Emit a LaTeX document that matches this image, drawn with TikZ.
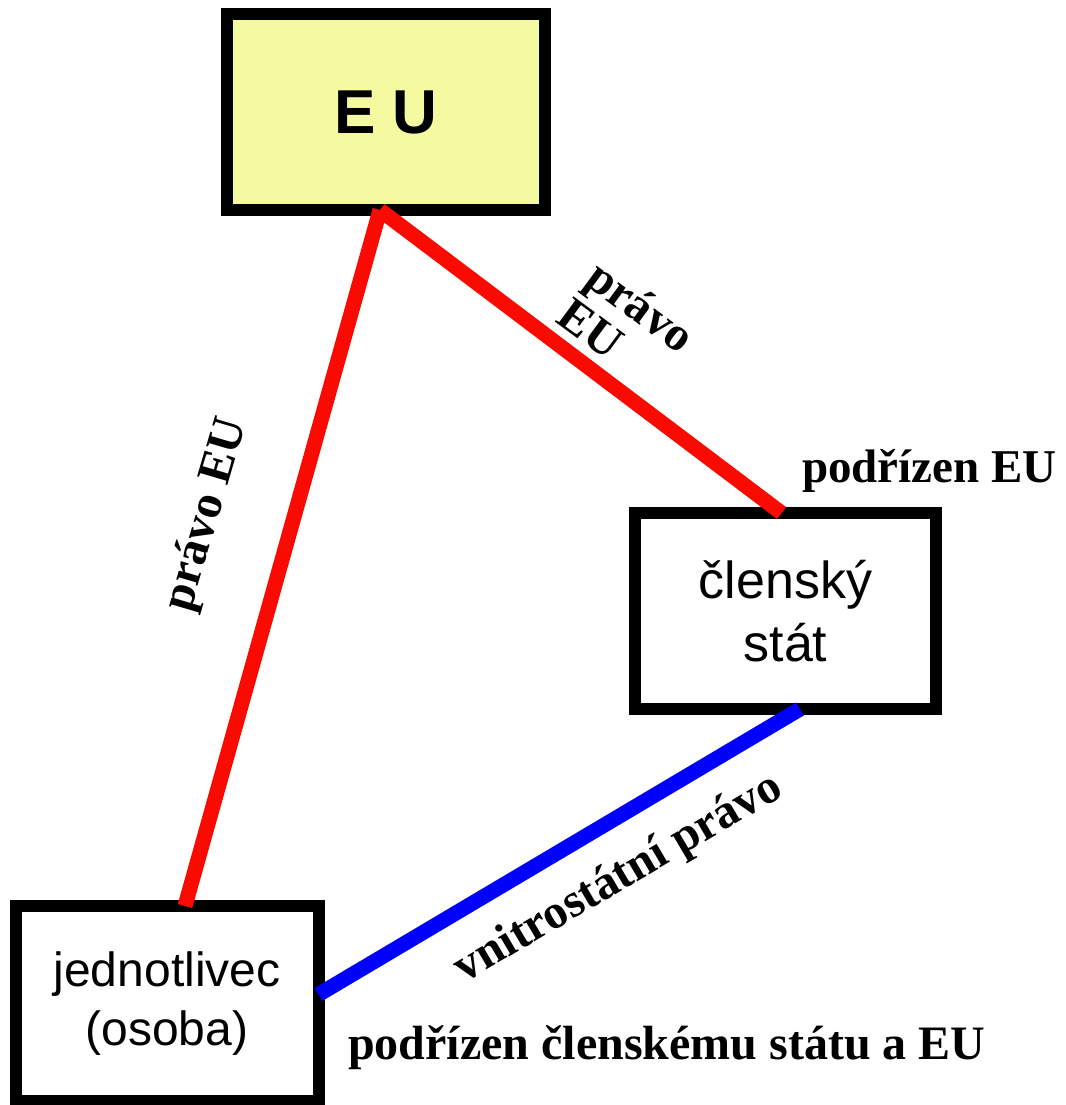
\documentclass[tikz,border=0pt]{standalone}
\usepackage{fontspec}
\setmainfont{Liberation Serif}
\newfontfamily\boxfont{Liberation Sans}
\usetikzlibrary{calc}
\definecolor{euyellow}{RGB}{245,250,160}
\definecolor{lawred}{RGB}{250,10,0}
\definecolor{lawblue}{RGB}{0,0,255}
\begin{document}
\begin{tikzpicture}[x=1pt,y=-1pt,
  box/.style={draw=black,line width=12pt,outer sep=0pt,inner sep=0pt,align=center},
  link/.style={line width=15pt,line cap=butt},
  lbl/.style={font=\bfseries\fontsize{48}{48}\selectfont,inner sep=0pt,align=left}]
\useasboundingbox (0,0) rectangle (1065,1105);
\node[box,fill=euyellow,minimum width=318pt,minimum height=196pt,font=\boxfont\bfseries\fontsize{62}{70}\selectfont] (eu) at (386,112) {E U};
\node[box,minimum width=301pt,minimum height=196pt,font=\boxfont\fontsize{52}{63}\selectfont] (cs) at (785.5,611) {členský\\stát};
\node[box,minimum width=303pt,minimum height=195pt,font=\boxfont\fontsize{48}{59}\selectfont] (jed) at (167,1003.5) {jednotlivec\\(osoba)};
\draw[link,lawred] ([xshift=-6pt]eu.south) -- ([xshift=18pt]jed.north);
\draw[link,lawred] ([xshift=-6pt]eu.south) -- ([xshift=-4pt]cs.north);
\draw[link,lawblue] ([xshift=14.5pt]cs.south) -- ([yshift=9pt]jed.east);
\node[lbl,rotate=73.6] (l1) at (207,515) {právo EU};
\node[lbl,rotate=-36.5] (l2) at (627,325) {právo\\EU};
\node[lbl,anchor=base west,font=\bfseries\fontsize{47}{48}\selectfont] (l3) at (802,482) {podřízen EU};
\node[lbl,rotate=30.5] (l4) at (619,879) {vnitrostátní právo};
\node[lbl,anchor=base west] (l5) at (348,1059) {podřízen členskému státu a EU};
\end{tikzpicture}
\end{document}
